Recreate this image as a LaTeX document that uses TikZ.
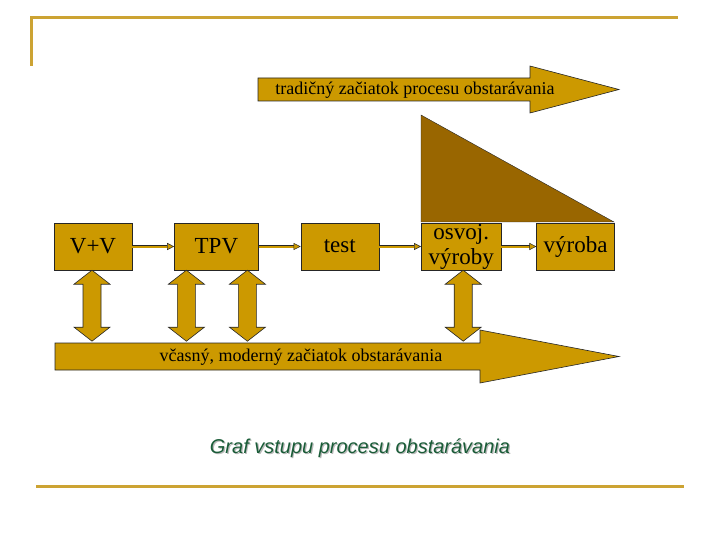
\documentclass[tikz,border=0pt]{standalone}
\usepackage{fontspec}
\setmainfont{Liberation Serif}
\newfontfamily\captionfont{Liberation Sans}
\usetikzlibrary{arrows.meta,positioning}
\definecolor{BoxGold}{RGB}{204,153,0}
\definecolor{DarkGold}{RGB}{153,102,0}
\definecolor{RuleGold}{RGB}{204,163,51}
\definecolor{CaptionGreen}{RGB}{26,92,56}
\tikzset{
  stage/.style={draw=black!85,fill=BoxGold,minimum width=78pt,
    minimum height=47pt,inner sep=0pt,align=center,
    font=\fontsize{23}{25}\selectfont},
  flow/.style={draw=black!85,line width=0.5pt,double=BoxGold,
    double distance=2pt,-{Triangle[length=7pt,width=7pt,fill=BoxGold]}},
  block/.style={draw=black!85,fill=BoxGold,line width=0.6pt},
  banner/.style={font=\fontsize{18}{20}\selectfont,inner sep=0pt},
  rule/.style={RuleGold,line width=3pt}
}

\begin{document}
\begin{tikzpicture}[x=1pt,y=-1pt]
\useasboundingbox (0,0) rectangle (720,540);

% frame rules
\draw[rule] (30,18) -- (678,18);
\draw[rule] (31.5,18) -- (31.5,66);
\draw[rule] (36,486) -- (684,486);

% traditional start
\draw[block] (258,78) -- (530,78) -- (530,66) -- (619,89.5)
  -- (530,113) -- (530,101) -- (258,101) -- cycle;
\node[banner] (late) at (415,90) {tradičný začiatok procesu obstarávania};

% wedge
\draw[draw=black!85,fill=DarkGold] (421,115) -- (421,222) -- (614,222) -- cycle;

% stages
\node[stage] (vv) at (93,246.5) {V+V};
\node[stage,minimum width=84pt,right=42pt of vv] (tpv) {TPV};
\node[stage,right=42pt of tpv] (test) {test};
\node[stage,minimum width=80pt,right=42pt of test] (osvoj) {osvoj.\\výroby};
\node[stage,right=35pt of osvoj] (vyroba) {výroba};

\draw[flow] (vv) -- (tpv);
\draw[flow] (tpv) -- (test);
\draw[flow] (test) -- (osvoj);
\draw[flow] (osvoj) -- (vyroba);

% early start
\draw[block] (55,343) -- (480,343) -- (480,330) -- (619,356.5)
  -- (480,383) -- (480,370) -- (55,370) -- cycle;
\node[banner] (early) at (301,357) {včasný, moderný začiatok obstarávania};

% links down to the early start
\foreach \st/\dx in {vv/-1,tpv/-30,tpv/31,osvoj/2}
  \draw[block] ([xshift=\dx pt]\st.south) -- ++(18,14) -- ++(-9,0)
    -- ++(0,43) -- ++(9,0) -- ++(-18,14) -- ++(-18,-14) -- ++(9,0)
    -- ++(0,-43) -- ++(-9,0) -- cycle;

% caption
\node[font=\captionfont\itshape\fontsize{20}{24}\selectfont,text=gray!55]
  (capshadow) at (361.2,449.2) {Graf vstupu procesu obstarávania};
\node[font=\captionfont\itshape\fontsize{20}{24}\selectfont,text=CaptionGreen]
  (caption) at (360,448) {Graf vstupu procesu obstarávania};

\end{tikzpicture}
\end{document}
